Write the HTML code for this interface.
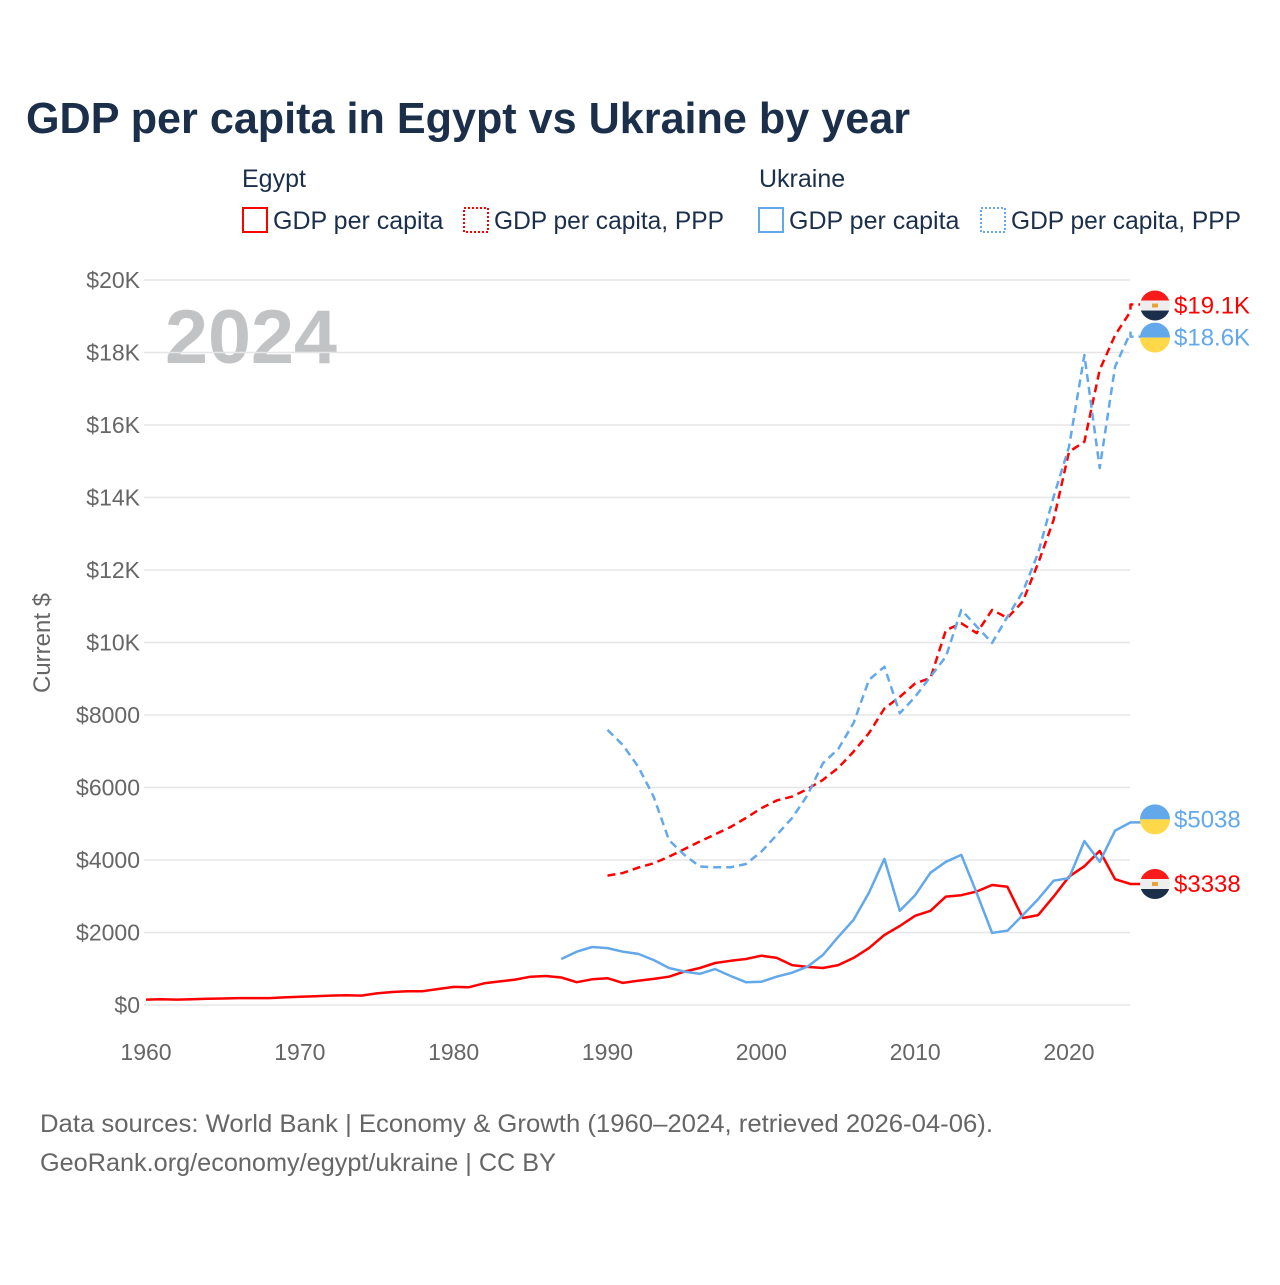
<!DOCTYPE html>
<html><head><meta charset="utf-8"><style>
body{margin:0;background:#fff;font-family:"Liberation Sans",sans-serif}
svg text{font-family:"Liberation Sans",sans-serif}
</style></head><body>
<svg id="chart" width="1280" height="1280" viewBox="0 0 1280 1280" xmlns="http://www.w3.org/2000/svg">
<text x="26" y="133" font-size="44" font-weight="bold" fill="#1b2f4b" textLength="884" lengthAdjust="spacingAndGlyphs">GDP per capita in Egypt vs Ukraine by year</text>
<g font-size="25" fill="#1b2f4b">
<text x="242" y="187">Egypt</text>
<text x="759" y="187">Ukraine</text>
<g><rect x="243" y="208" width="24" height="24" fill="none" stroke="#ff0000" stroke-width="2"/><text x="273" y="229">GDP per capita</text></g>
<g><rect x="464" y="208" width="24" height="24" fill="none" stroke="#ff0000" stroke-width="2" stroke-dasharray="2,2"/><text x="494" y="229" textLength="230" lengthAdjust="spacingAndGlyphs">GDP per capita, PPP</text></g>
<g><rect x="759" y="208" width="24" height="24" fill="none" stroke="#62a8ea" stroke-width="2"/><text x="789" y="229">GDP per capita</text></g>
<g><rect x="981" y="208" width="24" height="24" fill="none" stroke="#62a8ea" stroke-width="2" stroke-dasharray="2,2"/><text x="1011" y="229" textLength="230" lengthAdjust="spacingAndGlyphs">GDP per capita, PPP</text></g>
</g>
<text x="165" y="363" font-size="76" font-weight="bold" fill="#c2c3c5" textLength="172" lengthAdjust="spacingAndGlyphs">2024</text>
<text transform="translate(50,643) rotate(-90)" text-anchor="middle" font-size="24" fill="#666">Current $</text>
<g id="grid"></g><g id="yt"></g><g id="xt"></g><g id="lines"></g><g id="ends"></g>
<text x="40" y="1132" font-size="25" fill="#666" textLength="953" lengthAdjust="spacingAndGlyphs">Data sources: World Bank | Economy &amp; Growth (1960–2024, retrieved 2026-04-06).</text>
<text x="40" y="1171" font-size="25" fill="#666" textLength="516" lengthAdjust="spacingAndGlyphs">GeoRank.org/economy/egypt/ukraine | CC BY</text>
</svg>
<script>
const yTicks=[0,2000,4000,6000,8000,10000,12000,14000,16000,18000,20000];
const yTickLabels=["$0","$2000","$4000","$6000","$8000","$10K","$12K","$14K","$16K","$18K","$20K"];
const xTicks=[1960,1970,1980,1990,2000,2010,2020];
const egyptGdpStart=1960;
const egyptGdp=[150,160,150,160,170,180,190,190,190,210,230,240,260,270,260,320,360,380,380,440,500,490,600,650,700,780,800,760,630,710,740,610,670,720,780,920,1020,1160,1220,1270,1360,1300,1100,1050,1020,1100,1300,1570,1930,2180,2460,2600,2990,3030,3130,3310,3260,2400,2480,2990,3540,3830,4250,3470,3338];
const ukraineGdpStart=1987;
const ukraineGdp=[1270,1470,1600,1570,1470,1410,1240,1020,920,860,990,800,630,640,780,890,1060,1380,1880,2350,3100,4030,2600,3030,3650,3950,4140,3090,1990,2050,2480,2920,3430,3500,4520,3950,4810,5038];
const egyptPppStart=1990;
const egyptPpp=[3570,3640,3790,3910,4090,4300,4510,4710,4910,5160,5430,5640,5750,5960,6210,6540,6990,7500,8180,8500,8870,9020,10340,10530,10260,10900,10680,11130,12190,13380,15260,15540,17520,18480,19130];
const ukrainePppStart=1990;
const ukrainePpp=[7590,7170,6570,5750,4550,4140,3820,3800,3800,3890,4230,4690,5160,5790,6670,7060,7780,8970,9330,8050,8500,9060,9610,10900,10440,9990,10710,11400,12470,14020,15400,17930,14810,17610,18550];
const endLabels=["$3338","$5038","$19.1K","$18.6K"];
const NS="http://www.w3.org/2000/svg";
const X0=146,PX=15.383,Y0=1005,PY=0.03625;
function xs(yr){return X0+(yr-1960)*PX;}
function ys(v){return Y0-v*PY;}
function mk(t,a,p){const e=document.createElementNS(NS,t);for(const k in a)e.setAttribute(k,a[k]);p.appendChild(e);return e;}
const grid=document.getElementById('grid'),yt=document.getElementById('yt'),xt=document.getElementById('xt');
yTicks.forEach((v,i)=>{
 const l=mk('line',{x1:144,x2:1130,y1:ys(v),y2:ys(v),stroke:'#e6e6e6','stroke-width':1.5},grid);
 
 
 const t=mk('text',{x:140,y:ys(v)+8,'text-anchor':'end','font-size':23,fill:'#666'},yt);
 t.textContent=yTickLabels[i];
 
 
});
xTicks.forEach(yr=>{
 const t=mk('text',{x:xs(yr),y:1060,'text-anchor':'middle','font-size':23,fill:'#666'},xt);
 t.textContent=yr;
 
 
});
const lines=document.getElementById('lines'),ends=document.getElementById('ends');
function series(vals,start,color,dash,name,endY){
 const pts=vals.map((v,i)=>xs(start+i).toFixed(1)+','+ys(v).toFixed(1));
 const lx=xs(start+vals.length-1),ly=ys(vals[vals.length-1]);
 pts.push((lx).toFixed(1)+','+endY.toFixed(1));
 pts.push((lx+10).toFixed(1)+','+endY.toFixed(1));
 const p=mk('polyline',{points:pts.join(' '),fill:'none',stroke:color,'stroke-width':2.5,'stroke-linejoin':'round'},lines);
 if(dash)p.setAttribute('stroke-dasharray','8,5');
 
 
 return ly;
}
function flag(cy,egypt,label,color,name){
 const g=mk('g',{},ends);
 
 
 const cx=1155,r=15;
 const cp='c'+Math.round(cy);
 const d=mk('clipPath',{id:cp},g);mk('circle',{cx:cx,cy:cy,r:r},d);
 const cg=mk('g',{'clip-path':'url(#'+cp+')'},g);
 if(egypt){
  mk('rect',{x:cx-r,y:cy-r,width:30,height:10,fill:'#f91a1a'},cg);
  mk('rect',{x:cx-r,y:cy-5,width:30,height:10,fill:'#eeeeee'},cg);
  mk('rect',{x:cx-r,y:cy+5,width:30,height:10,fill:'#1b2f4b'},cg);
  mk('rect',{x:cx-3,y:cy-2,width:6,height:4,fill:'#e8a33a'},cg);
 }else{
  mk('rect',{x:cx-r,y:cy-r,width:30,height:15,fill:'#62a8ea'},cg);
  mk('rect',{x:cx-r,y:cy,width:30,height:15,fill:'#ffd84a'},cg);
 }
 const t=mk('text',{x:1174,y:cy+8,'font-size':24,fill:color},g);
 t.textContent=label;
}
const eY=ys(egyptGdp[egyptGdp.length-1]), uY=ys(ukraineGdp[ukraineGdp.length-1]);
const epY=ys(egyptPpp[egyptPpp.length-1])-7, upY=ys(ukrainePpp[ukrainePpp.length-1])+4;
series(egyptGdp,egyptGdpStart,'#ff0000',false,'egypt-gdp-line',eY);
series(ukraineGdp,ukraineGdpStart,'#62a8ea',false,'ukraine-gdp-line',uY);
series(egyptPpp,egyptPppStart,'#ff0000',true,'egypt-ppp-line',epY);
series(ukrainePpp,ukrainePppStart,'#62a8ea',true,'ukraine-ppp-line',upY);
flag(eY,true,endLabels[0],'#ff0000','egypt-gdp-end-label');
flag(uY-3,false,endLabels[1],'#62a8ea','ukraine-gdp-end-label');
flag(epY+1,true,endLabels[2],'#ff0000','egypt-ppp-end-label');
flag(upY+1,false,endLabels[3],'#62a8ea','ukraine-ppp-end-label');
</script>
</body></html>
